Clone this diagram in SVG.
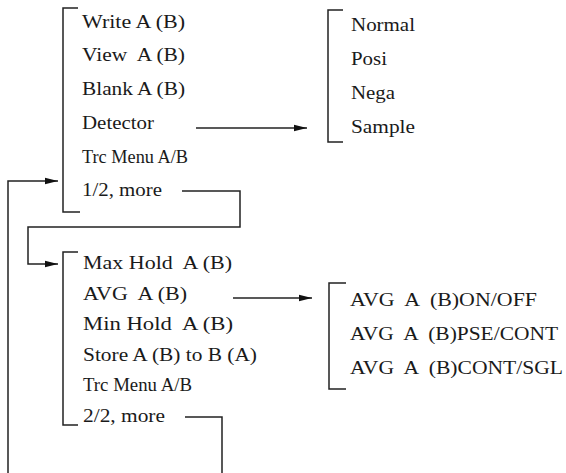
<svg xmlns="http://www.w3.org/2000/svg" width="566" height="473" viewBox="0 0 566 473">
<style>
.t text{font-size:19px;fill:#1a1a1a}
.br{fill:none;stroke:#222;stroke-width:1.5}
.ln{fill:none;stroke:#222;stroke-width:1.5}
</style>
<defs>
<marker id="ah" markerWidth="14" markerHeight="8" refX="13" refY="4" orient="auto" markerUnits="userSpaceOnUse">
<path d="M0,0.8 L13,4 L0,7.2 Z" fill="#111"/>
</marker>
</defs>
<rect width="566" height="473" fill="#fff"/>
<g class="t" font-family="Liberation Serif, Tinos, DejaVu Serif, serif">
<g id="menu1">
<path class="br" d="M78,8 H63 V212 H80"/>
<text x="82" y="28" textLength="103" lengthAdjust="spacingAndGlyphs">Write A (B)</text>
<text x="82" y="61" textLength="103" lengthAdjust="spacingAndGlyphs" xml:space="preserve">View  A (B)</text>
<text x="82" y="95" textLength="103" lengthAdjust="spacingAndGlyphs">Blank A (B)</text>
<text x="82" y="129" textLength="72" lengthAdjust="spacingAndGlyphs">Detector</text>
<text x="82" y="163" textLength="106" lengthAdjust="spacingAndGlyphs">Trc Menu A/B</text>
<text x="82" y="196" textLength="80" lengthAdjust="spacingAndGlyphs">1/2, more</text>
</g>
<g id="detector">
<path class="br" d="M343,10 H328 V142 H343"/>
<text x="351" y="31" textLength="64" lengthAdjust="spacingAndGlyphs">Normal</text>
<text x="351" y="65" textLength="36" lengthAdjust="spacingAndGlyphs">Posi</text>
<text x="351" y="99" textLength="44" lengthAdjust="spacingAndGlyphs">Nega</text>
<text x="351" y="133" textLength="64" lengthAdjust="spacingAndGlyphs">Sample</text>
</g>
<g id="menu2">
<path class="br" d="M78,252 H63 V425 H78"/>
<text x="83" y="269" textLength="149" lengthAdjust="spacingAndGlyphs" xml:space="preserve">Max Hold  A (B)</text>
<text x="83" y="300" textLength="104" lengthAdjust="spacingAndGlyphs" xml:space="preserve">AVG  A (B)</text>
<text x="83" y="330" textLength="150" lengthAdjust="spacingAndGlyphs" xml:space="preserve">Min Hold  A (B)</text>
<text x="83" y="361" textLength="174" lengthAdjust="spacingAndGlyphs">Store A (B) to B (A)</text>
<text x="83" y="391" textLength="109" lengthAdjust="spacingAndGlyphs">Trc Menu A/B</text>
<text x="83" y="422" textLength="82" lengthAdjust="spacingAndGlyphs">2/2, more</text>
</g>
<g id="avg">
<path class="br" d="M346,283 H329 V389 H346"/>
<text x="350" y="306" textLength="187" lengthAdjust="spacingAndGlyphs" xml:space="preserve">AVG  A  (B)ON/OFF</text>
<text x="350" y="340" textLength="208" lengthAdjust="spacingAndGlyphs" xml:space="preserve">AVG  A  (B)PSE/CONT</text>
<text x="350" y="374" textLength="213" lengthAdjust="spacingAndGlyphs" xml:space="preserve">AVG  A  (B)CONT/SGL</text>
</g>
</g>
<g id="connectors">
<path class="ln" d="M196,128 H307" marker-end="url(#ah)"/>
<path class="ln" d="M233,298 H312" marker-end="url(#ah)"/>
<path class="ln" d="M182,191 H240 V227 H28 V264 H58" marker-end="url(#ah)"/>
<path class="ln" d="M8,473 V181 H58" marker-end="url(#ah)"/>
<path class="ln" d="M185,417 H222 V473"/>
</g>
</svg>
